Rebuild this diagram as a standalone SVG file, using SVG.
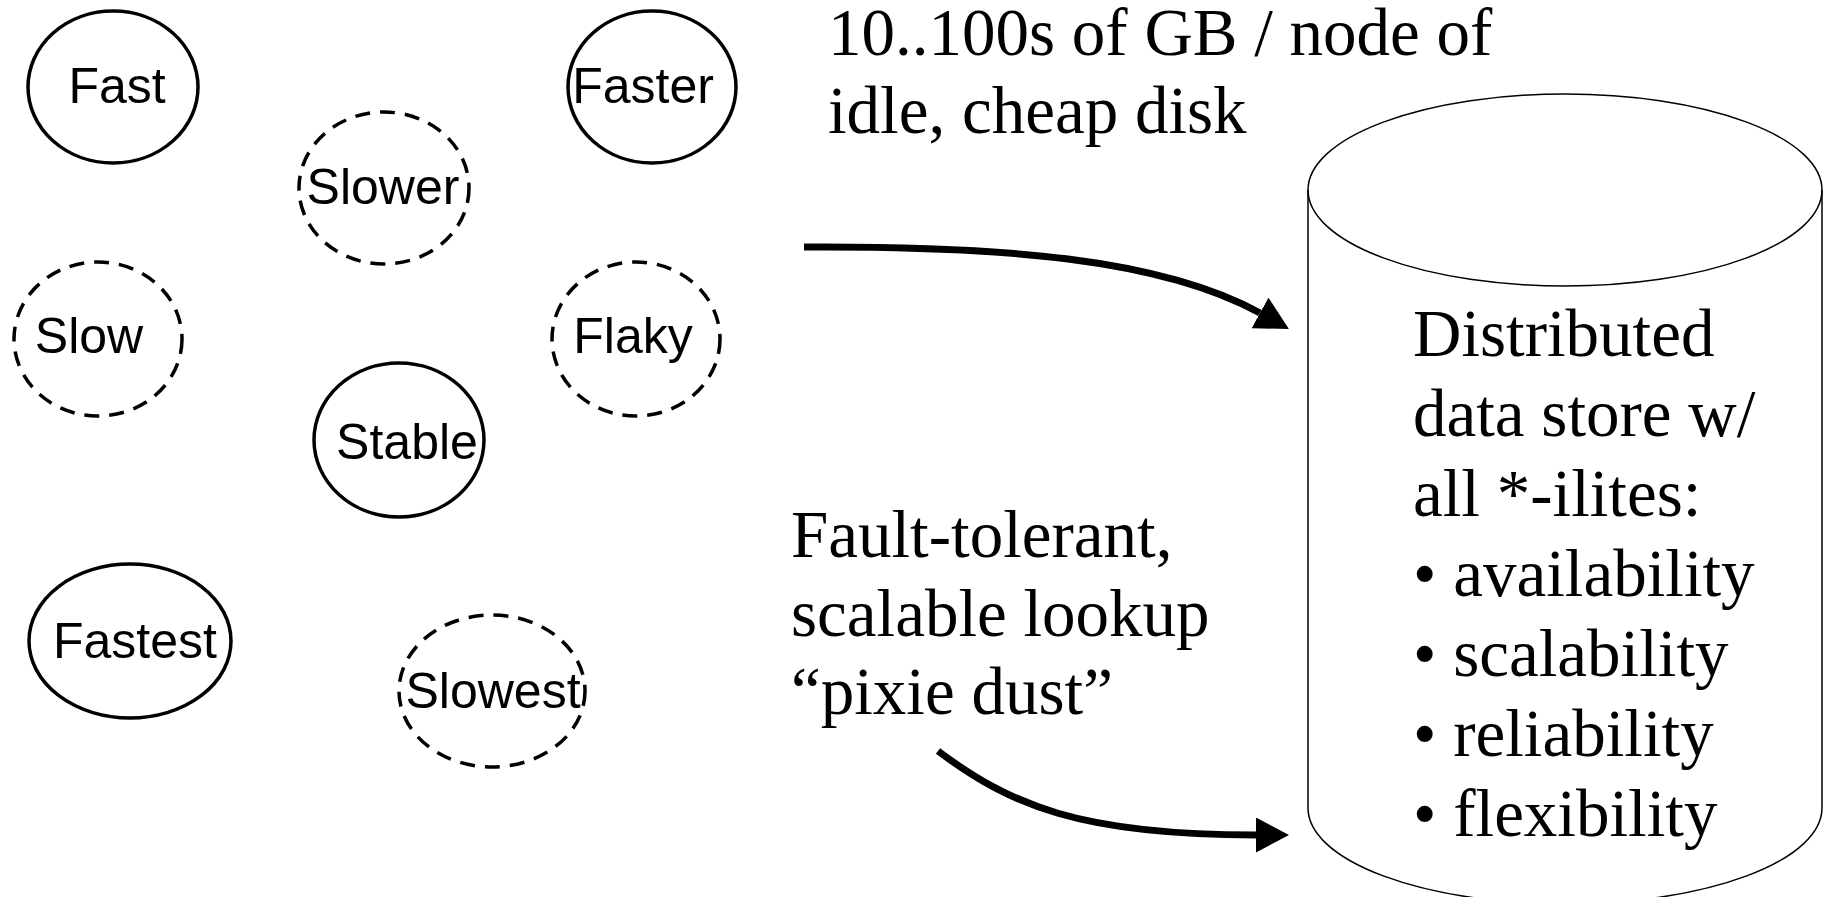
<svg xmlns="http://www.w3.org/2000/svg" width="1830" height="897" viewBox="0 0 1830 897">
  <style>
    .node { fill: none; stroke: #000; stroke-width: 3.5; }
    .node.flaky { stroke-dasharray: 15 10; }
    .label { font-family: "Liberation Sans", Arial, sans-serif; font-size: 50px; fill: #000; text-anchor: middle; }
    .note { font-family: "Liberation Serif", "Times New Roman", serif; font-size: 67px; fill: #000; }
    .store { fill: none; stroke: #000; stroke-width: 1.5; }
    .link { fill: none; stroke: #000; stroke-width: 7; }
  </style>
  <defs>
    <marker id="head" markerUnits="userSpaceOnUse" markerWidth="34" markerHeight="35" refX="0" refY="17.5" orient="auto">
      <path d="M0,0 L33,17.5 L0,35 z" fill="#000"/>
    </marker>
  </defs>
  <rect width="1830" height="897" fill="#fff"/>

  <!-- peer nodes: solid = stable, dashed = unreliable -->
  <g id="node-fast">
    <ellipse class="node" cx="113" cy="87" rx="85" ry="76"/>
    <text class="label" x="117" y="103">Fast</text>
  </g>
  <g id="node-faster">
    <ellipse class="node" cx="652" cy="87" rx="84" ry="76"/>
    <text class="label" x="643" y="103">Faster</text>
  </g>
  <g id="node-slower">
    <ellipse class="node flaky" cx="384" cy="188" rx="85" ry="76"/>
    <text class="label" x="383" y="204">Slower</text>
  </g>
  <g id="node-slow">
    <ellipse class="node flaky" cx="98" cy="339" rx="84" ry="77"/>
    <text class="label" x="89" y="353">Slow</text>
  </g>
  <g id="node-flaky">
    <ellipse class="node flaky" cx="636" cy="339" rx="84" ry="77"/>
    <text class="label" x="633" y="353">Flaky</text>
  </g>
  <g id="node-stable">
    <ellipse class="node" cx="399" cy="440" rx="85" ry="77"/>
    <text class="label" x="407" y="459">Stable</text>
  </g>
  <g id="node-fastest">
    <ellipse class="node" cx="130" cy="641" rx="101" ry="77"/>
    <text class="label" x="135" y="658">Fastest</text>
  </g>
  <g id="node-slowest">
    <ellipse class="node flaky" cx="492" cy="691" rx="93" ry="76"/>
    <text class="label" x="493" y="708">Slowest</text>
  </g>

  <!-- captions -->
  <g id="caption-disk">
    <text class="note" x="828" y="55">10..100s of GB / node of</text>
    <text class="note" x="828" y="133">idle, cheap disk</text>
  </g>
  <g id="caption-lookup">
    <text class="note" x="791" y="557">Fault-tolerant,</text>
    <text class="note" x="791" y="636">scalable lookup</text>
    <text class="note" x="791" y="714">“pixie dust”</text>
  </g>

  <!-- distributed store drum -->
  <g id="store">
    <path class="store" d="M1308,190 L1308,808 A257,96 0 0 0 1822,808 L1822,190"/>
    <ellipse class="store" cx="1565" cy="190" rx="257" ry="96"/>
    <text class="note" x="1413" y="356">Distributed</text>
    <text class="note" x="1413" y="436">data store w/</text>
    <text class="note" x="1413" y="516">all *-ilites:</text>
    <text class="note" x="1413" y="596">• availability</text>
    <text class="note" x="1413" y="676">• scalability</text>
    <text class="note" x="1413" y="756">• reliability</text>
    <text class="note" x="1413" y="836">• flexibility</text>
  </g>

  <!-- connectors -->
  <g id="connectors">
    <path class="link" d="M804,247 C1000,246 1160,258 1260,313" marker-end="url(#head)"/>
    <path class="link" d="M938,751 C1010,805 1080,835 1256,835" marker-end="url(#head)"/>
  </g>
</svg>
